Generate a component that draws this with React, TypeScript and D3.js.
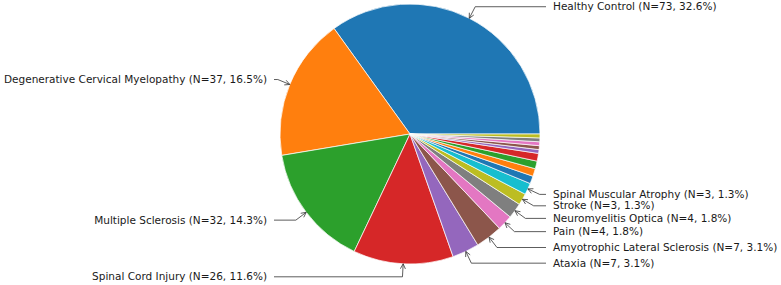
import React from "react";
import * as d3 from "d3";

const categories = [
  "Healthy Control",
  "Degenerative Cervical Myelopathy",
  "Multiple Sclerosis",
  "Spinal Cord Injury",
  "Ataxia",
  "Amyotrophic Lateral Sclerosis",
  "Pain",
  "Neuromyelitis Optica",
  "Stroke",
  "Spinal Muscular Atrophy",
  "Other 1",
  "Other 2",
  "Other 3",
  "Other 4",
  "Other 5",
  "Other 6",
  "Other 7",
  "Other 8",
  "Other 9",
];
const counts = [73, 37, 32, 26, 7, 7, 4, 4, 3, 3, 2, 2, 2, 2, 1, 1, 1, 1, 1];
const percentBase = 224;
const labeledCount = 10;
const colors = ["#1f77b4", "#ff7f0e", "#2ca02c", "#d62728", "#9467bd", "#8c564b", "#e377c2", "#7f7f7f", "#bcbd22", "#17becf"];

const W = 781;
const H = 285;
const cx = 410;
const cy = 134;
const R = 130;

export default function App() {
  const data = categories.map((name, i) => ({ name, value: counts[i], i }));
  const pie = d3
    .pie<any>()
    .value((d: any) => d.value)
    .sort(null)
    .startAngle(Math.PI / 2)
    .endAngle(Math.PI / 2 - 2 * Math.PI);
  const arcs = pie(data);
  const arc = d3.arc<any>().innerRadius(0).outerRadius(R);
  const color = d3.scaleOrdinal<number, string>().domain(d3.range(10)).range(colors);

  const labels = arcs
    .filter((a: any) => a.data.i < labeledCount)
    .map((a: any) => {
      const mid = (a.startAngle + a.endAngle) / 2;
      const ux = Math.sin(mid);
      const uy = -Math.cos(mid);
      const tipX = cx + ux * R;
      const tipY = cy + uy * R;
      const side = ux >= 0 ? 1 : -1;
      const ty = cy + uy * R * 1.1;
      const tx = cx + side * R * 1.1;
      const lineStartX = tx - side * 7;
      // corner: go from tip outward along radial direction until reaching ty
      let t = Math.abs(uy) > 1e-3 ? (ty - tipY) / uy : 0;
      let cornerX = tipX + ux * t;
      let cornerY = ty;
      const pct = ((a.data.value / percentBase) * 100).toFixed(1);
      const text = `${a.data.name} (N=${a.data.value}, ${pct}%)`;
      // arrowhead
      const dx = tipX - cornerX;
      const dy = tipY - cornerY;
      const len = Math.hypot(dx, dy) || 1;
      const ex = dx / len;
      const ey = dy / len;
      const hl = 5;
      const hw = 2.5;
      const bx = tipX - ex * hl;
      const by = tipY - ey * hl;
      const head = `M${bx - ey * hw},${by + ex * hw}L${tipX},${tipY}L${bx + ey * hw},${by - ex * hw}`;
      return { text, tx, ty, side, line: `M${lineStartX},${ty}L${cornerX},${cornerY}L${tipX},${tipY}`, head };
    });

  return (
    <svg width={W} height={H} style={{ position: "absolute", left: 0, top: 0, background: "#fff" }}>
      <g transform={`translate(${cx},${cy})`}>
        {arcs.map((a: any, k: number) => (
          <path key={k} d={arc(a) as string} fill={color(a.data.i % 10)} stroke="#fff" strokeWidth={0.7} />
        ))}
      </g>
      {labels.map((l, k) => (
        <g key={k}>
          <path d={l.line} fill="none" stroke="#333" strokeWidth={0.8} />
          <path d={l.head} fill="none" stroke="#333" strokeWidth={0.8} />
          <text
            x={l.tx}
            y={l.ty}
            dy="0.35em"
            textAnchor={l.side > 0 ? "start" : "end"}
            fontFamily="DejaVu Sans"
            fontSize={10.5}
            fill="#1a1a1a"
          >
            {l.text}
          </text>
        </g>
      ))}
    </svg>
  );
}
